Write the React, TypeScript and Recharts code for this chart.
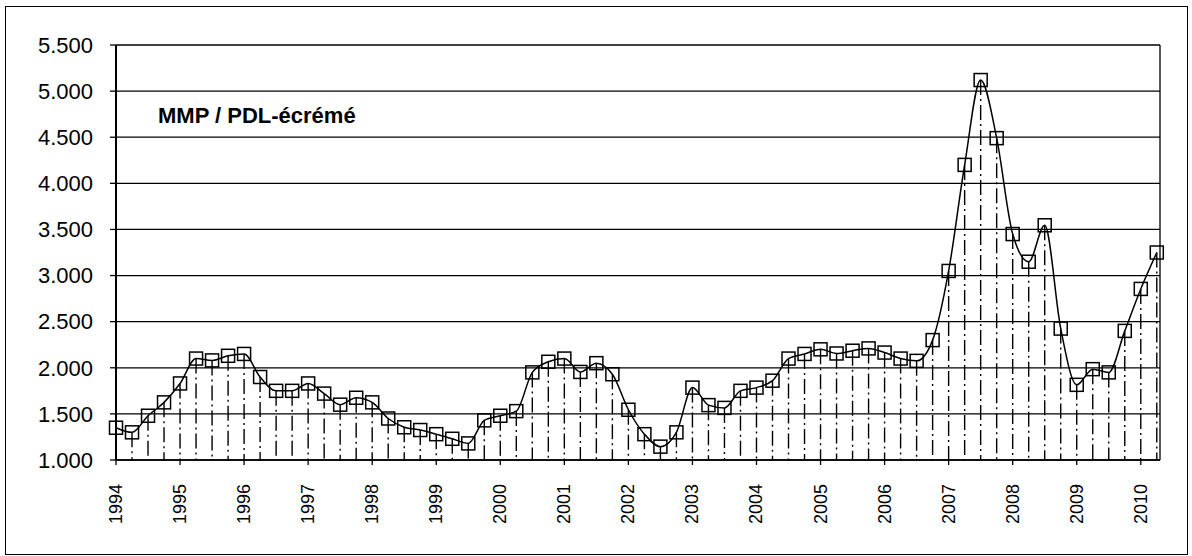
import { Bar, CartesianGrid, ComposedChart, Line, XAxis, YAxis } from 'recharts';

// quarterly ratio, 1994 T1 .. 2010 T2
const values = [
  1350, 1300, 1480, 1625, 1830, 2100, 2080, 2130, 2150, 1900,
  1750, 1750, 1830, 1720, 1600, 1675, 1625, 1450, 1355, 1325,
  1280, 1230, 1180, 1430, 1480, 1530, 1950, 2065, 2100, 1955,
  2050, 1930, 1545, 1280, 1145, 1300, 1785, 1595, 1565, 1750,
  1785, 1860, 2100, 2150, 2200, 2155, 2185, 2210, 2165, 2100,
  2075, 2300, 3050, 4200, 5120, 4490, 3450, 3150, 3545, 2425,
  1815, 1985, 1950, 2400, 2855, 3250,
];

const years = [
  '1994', '1995', '1996', '1997', '1998', '1999', '2000', '2001', '2002',
  '2003', '2004', '2005', '2006', '2007', '2008', '2009', '2010',
];

const yTicks = [1000, 1500, 2000, 2500, 3000, 3500, 4000, 4500, 5000, 5500];

const title = 'MMP / PDL-écrémé';

const quarters = years.flatMap((y) => ['T1', 'T2', 'T3', 'T4'].map((q) => `${y} ${q}`));

const data = values.map((v, i) => ({ t: i, quarter: quarters[i], value: v }));

const fmt = (v: number) => `${Math.floor(v / 1000)}.${String(v % 1000).padStart(3, '0')}`;

const FONT = 'Arial, "Liberation Sans", sans-serif';

const YearTick = ({ x, y, payload }: any) => (
  <text
    transform={`translate(${x},${y + 17}) rotate(-90)`}
    textAnchor="end"
    dominantBaseline="central"
    fontSize={18}
    fontFamily={FONT}
    fill="#000"
  >
    {years[Math.round(payload.value / 4)]}
  </text>
);

const DropLine = ({ x, y, width, height }: any) => {
  const cx = x + width / 2;
  return (
    <line x1={cx} x2={cx} y1={y} y2={y + height} stroke="#000" strokeWidth={1.4} strokeDasharray="15 4 2 4" />
  );
};

const SquareDot = ({ cx, cy, index }: any) => (
  <rect key={index} x={cx - 6.5} y={cy - 6.5} width={13} height={13} fill="none" stroke="#000" strokeWidth={1.5} />
);

export default function App() {
  return (
    <div style={{ position: 'absolute', left: 0, top: 0, width: 1192, height: 556, background: '#fff' }}>
      <div
        style={{
          position: 'absolute', left: 5, top: 6, width: 1183, height: 549,
          boxSizing: 'border-box', border: '1px solid #000',
        }}
      />
      <ComposedChart
        width={1192}
        height={556}
        data={data}
        margin={{ top: 45, right: 32, bottom: 0, left: 0 }}
        style={{ position: 'absolute', left: 0, top: 0 }}
      >
        <CartesianGrid
          stroke="#000"
          strokeWidth={1.3}
          horizontal={true}
          vertical={true}
          verticalCoordinatesGenerator={({ offset }: any) => [offset.left + offset.width]}
        />
        <XAxis
          dataKey="t"
          type="number"
          domain={[0, 65.2]}
          ticks={years.map((_, k) => k * 4)}
          interval={0}
          height={96}
          axisLine={{ stroke: '#000', strokeWidth: 1.5 }}
          tickLine={{ stroke: '#000', strokeWidth: 1.3 }}
          tickSize={5}
          tick={<YearTick />}
        />
        <YAxis
          type="number"
          domain={[1000, 5500]}
          ticks={yTicks}
          interval={0}
          width={116}
          axisLine={{ stroke: '#000', strokeWidth: 2 }}
          tickLine={{ stroke: '#000', strokeWidth: 1.3 }}
          tickSize={6}
          tickMargin={17}
          tickFormatter={fmt}
          tick={{ fill: '#000', fontSize: 22, fontFamily: FONT }}
        />
        <Bar dataKey="value" barSize={2} shape={<DropLine />} isAnimationActive={false} />
        <Line
          type="monotone"
          dataKey="value"
          stroke="#000"
          strokeWidth={1.5}
          dot={<SquareDot />}
          activeDot={false}
          isAnimationActive={false}
        />
      </ComposedChart>
      <div
        style={{
          position: 'absolute', left: 158, top: 105, fontFamily: FONT, fontWeight: 'bold',
          fontSize: 22, lineHeight: '22px', color: '#000', whiteSpace: 'nowrap',
        }}
      >
        {title}
      </div>
    </div>
  );
}
